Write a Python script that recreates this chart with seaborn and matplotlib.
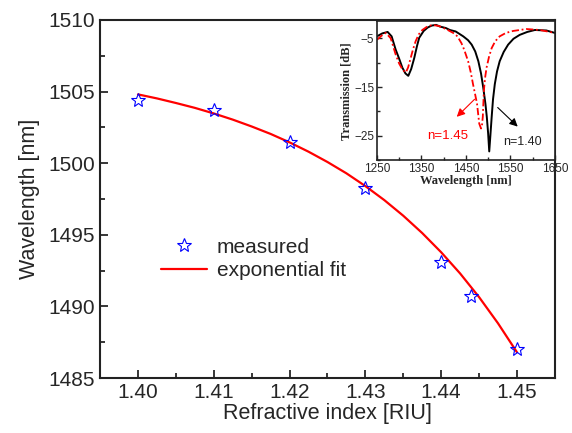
import numpy as np
import pandas as pd
import seaborn as sns
import matplotlib.pyplot as plt
from matplotlib.ticker import MultipleLocator

# main plot data
ri_measured = [1.40, 1.41, 1.42, 1.43, 1.44, 1.444, 1.45]
wl_measured = [1504.4, 1503.7, 1501.5, 1498.3, 1493.1, 1490.7, 1487.0]

ri_fit = [1.4000, 1.4025, 1.4050, 1.4075, 1.4100, 1.4125, 1.4150, 1.4175, 1.4200, 1.4225, 1.4250,
          1.4275, 1.4300, 1.4325, 1.4350, 1.4375, 1.4400, 1.4425, 1.4450, 1.4475, 1.4500]
wl_fit = [1504.80, 1504.52, 1504.20, 1503.86, 1503.47, 1503.04, 1502.56, 1502.04, 1501.45, 1500.80, 1500.08,
          1499.29, 1498.40, 1497.42, 1496.33, 1495.12, 1493.78, 1492.30, 1490.65, 1488.82, 1486.80]

# inset spectra
wl_140 = [1250, 1262, 1274, 1283, 1292, 1300, 1307, 1314, 1320.5, 1327, 1334, 1340, 1345, 1355, 1364, 1373,
          1383, 1392, 1405, 1414, 1427, 1444, 1455, 1463, 1471, 1478, 1484, 1489, 1494, 1497, 1500,
          1502.5, 1505, 1508, 1511, 1515, 1520, 1526, 1535, 1545, 1557, 1571, 1588, 1605, 1631, 1650]
tr_140 = [-4.6, -4.0, -3.7, -4.6, -7.3, -9.2, -11.0, -12.2, -12.7, -11.3, -9.0, -6.6, -4.9, -3.5, -2.8, -2.4,
          -2.25, -2.6, -2.9, -3.3, -3.6, -4.6, -5.4, -6.3, -7.7, -9.7, -12.2, -15.1, -18.5, -21.1, -24.5,
          -28.2, -25.0, -21.1, -17.5, -14.4, -11.8, -9.7, -7.8, -6.3, -5.1, -4.3, -3.7, -3.3, -3.4, -3.9]

wl_145 = [1250, 1260, 1270, 1281, 1292, 1300, 1308, 1315, 1320, 1326, 1331, 1337, 1344, 1352, 1363,
          1374.5, 1390, 1405, 1421.5, 1431, 1440, 1446, 1455, 1461, 1466, 1471, 1475, 1480, 1484,
          1486, 1488, 1490.5, 1493, 1496.5, 1502, 1508, 1516, 1526, 1540, 1556, 1586, 1616, 1650]
tr_145 = [-5.3, -4.5, -3.9, -5.0, -8.3, -10.2, -11.5, -12.0, -11.0, -9.0, -7.3, -5.6, -4.2, -3.3, -2.6,
          -2.25, -2.5, -3.1, -3.9, -4.6, -6.0, -7.3, -9.7, -12.0, -14.4, -16.6, -18.4, -22.5, -23.5,
          -23.0, -21.1, -15.7, -13.2, -11.0, -8.8, -7.0, -5.6, -4.6, -3.9, -3.5, -3.1, -3.3, -3.9]

sns.set_style("ticks")
plt.rcParams["font.family"] = ["Liberation Sans", "DejaVu Sans"]
plt.rcParams["xtick.direction"] = "in"
plt.rcParams["ytick.direction"] = "in"

fig = plt.figure(figsize=(5.72, 4.33), dpi=100)
ax = fig.add_axes([0.175, 0.127, 0.795, 0.827])

df_meas = pd.DataFrame({"ri": ri_measured, "wl": wl_measured})
df_fit = pd.DataFrame({"ri": ri_fit, "wl": wl_fit})

sns.lineplot(data=df_fit, x="ri", y="wl", color="red", lw=1.6, ax=ax, label="exponential fit")
ax.plot(df_meas["ri"], df_meas["wl"], ls="none", marker="*", ms=10, mfc="none", mec="blue",
        mew=0.8, label="measured")

ax.set_xlim(1.395, 1.455)
ax.set_ylim(1485, 1510)
ax.xaxis.set_major_locator(MultipleLocator(0.01))
ax.xaxis.set_minor_locator(MultipleLocator(0.005))
ax.yaxis.set_major_locator(MultipleLocator(5))
ax.yaxis.set_minor_locator(MultipleLocator(2.5))
ax.set_xticklabels([f"{v:.2f}" for v in ax.get_xticks()])
ax.tick_params(which="major", length=6, width=1.3, labelsize=15, top=False, right=False)
ax.tick_params(which="minor", length=3.5, width=1.3, top=False, right=False)
for s in ax.spines.values():
    s.set_linewidth(1.5)
    s.set_color("#222222")
ax.set_xlabel("Refractive index [RIU]", fontsize=15.5, labelpad=1)
ax.set_ylabel("Wavelength [nm]", fontsize=15.5, labelpad=6)

handles, labels = ax.get_legend_handles_labels()
ax.legend(handles[::-1], labels[::-1], loc="upper left", bbox_to_anchor=(0.115, 0.415),
          frameon=False, fontsize=15, handlelength=2.2, handletextpad=0.5, labelspacing=0.2,
          borderaxespad=0)

# inset
ins = fig.add_axes([0.659, 0.630, 0.311, 0.321])
df140 = pd.DataFrame({"wl": wl_140, "tr": tr_140})
df145 = pd.DataFrame({"wl": wl_145, "tr": tr_145})
sns.lineplot(data=df140, x="wl", y="tr", color="black", lw=1.4, ax=ins, sort=False)
sns.lineplot(data=df145, x="wl", y="tr", color="red", lw=1.3, ls=(0, (4, 1.5, 1, 1.5)), ax=ins, sort=False)
ins.set_xlim(1250, 1650)
ins.set_ylim(-30, -1.5)
ins.set_xticks([1250, 1350, 1450, 1550, 1650])
ins.xaxis.set_minor_locator(MultipleLocator(50))
ins.set_yticks([-5, -15, -25])
ins.yaxis.set_minor_locator(MultipleLocator(5))
ins.tick_params(which="major", length=3.5, width=1, labelsize=8.5, pad=2)
ins.tick_params(which="minor", length=2, width=1)
for s in ins.spines.values():
    s.set_linewidth(1.2)
    s.set_color("#222222")
serif = {"family": "Liberation Serif", "weight": "bold", "size": 9}
ins.set_xlabel("Wavelength [nm]", fontdict=serif, labelpad=0)
ins.set_ylabel("Transmission [dB]", fontdict=serif, labelpad=1)

ins.annotate("", xy=(1425, -21.5), xytext=(1474, -17.1),
             arrowprops=dict(arrowstyle="-|>", color="red", lw=0.8, mutation_scale=12))
ins.annotate("", xy=(1571, -23.5), xytext=(1517, -18.8),
             arrowprops=dict(arrowstyle="-|>", color="black", lw=0.8, mutation_scale=12))
ins.text(1362, -25.0, "n=1.45", color="red", fontsize=9.5, va="center")
ins.text(1533, -26.3, "n=1.40", color="#222222", fontsize=9, va="center")

fig.savefig("out.png", dpi=100)
